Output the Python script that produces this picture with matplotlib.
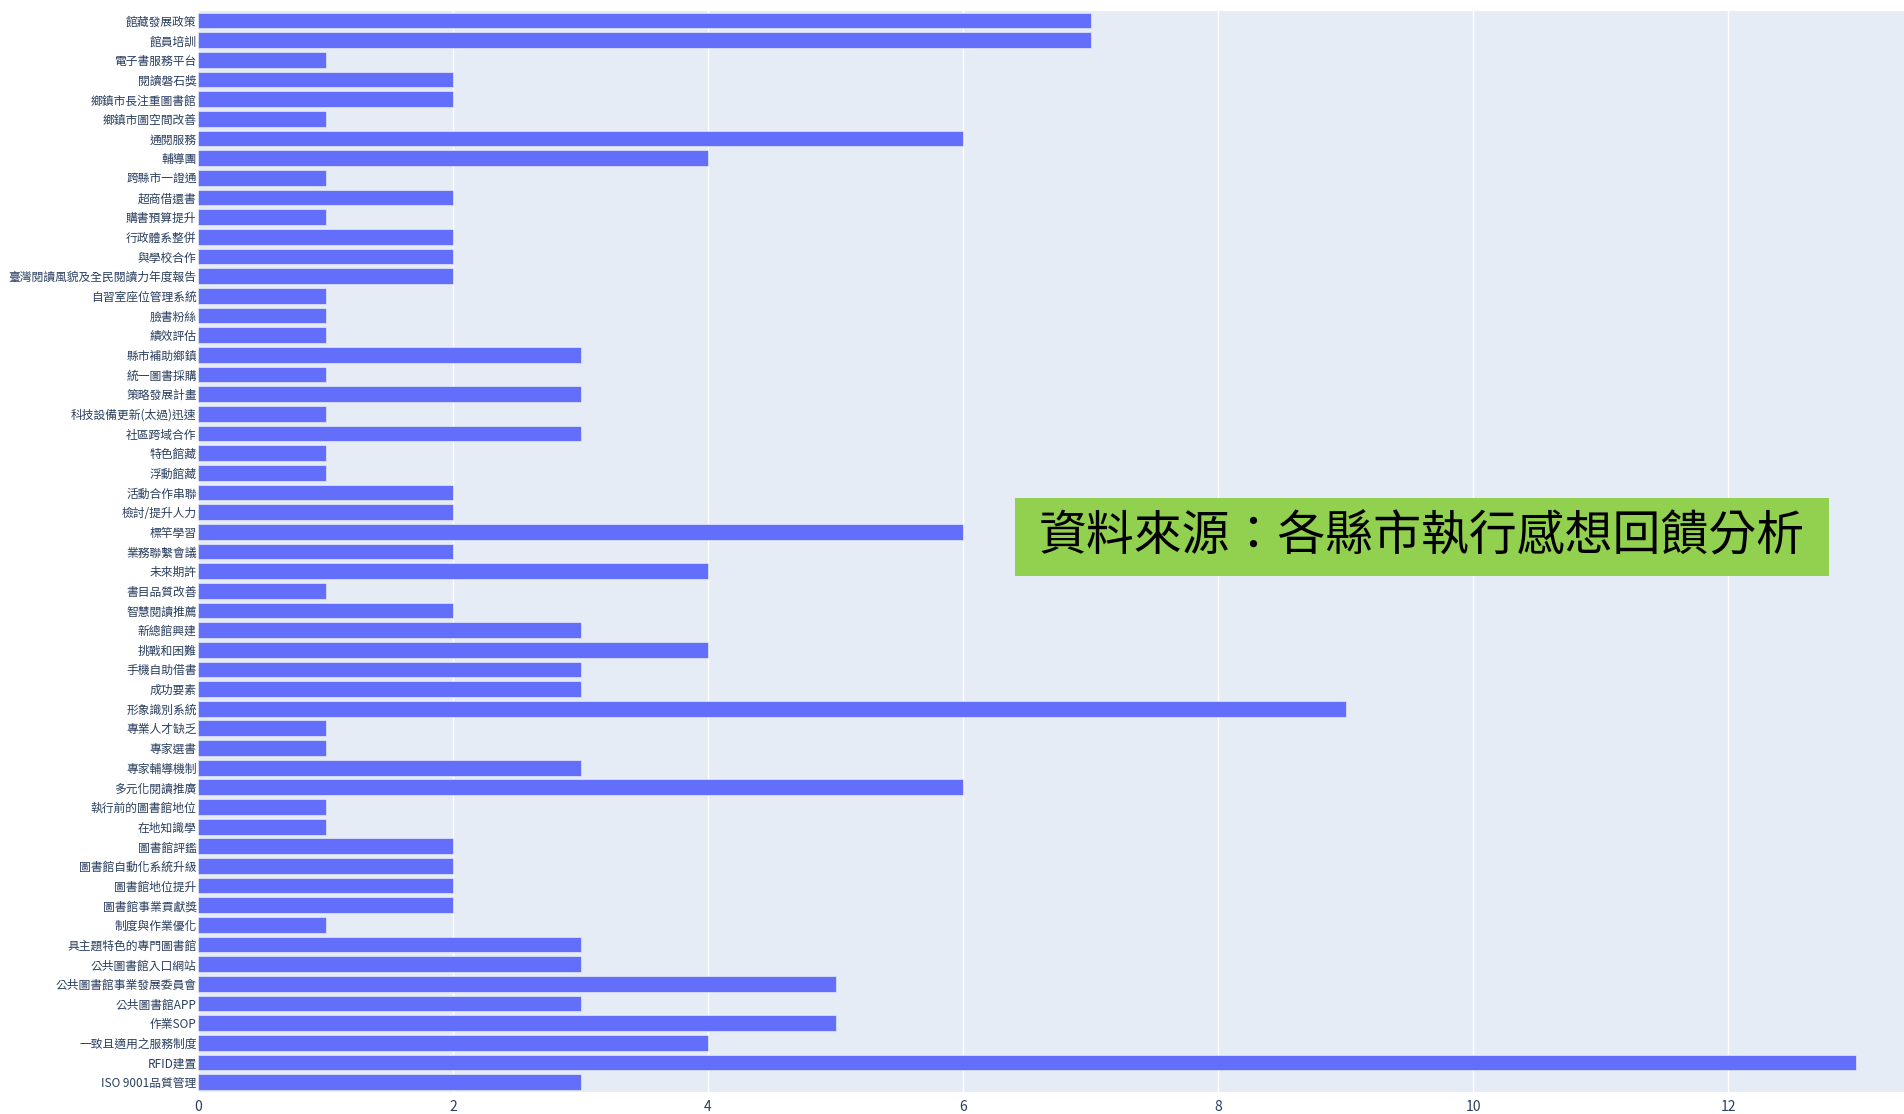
import matplotlib
matplotlib.use("Agg")
import matplotlib.pyplot as plt

plt.rcParams['font.family'] = ['Noto Sans CJK TC', 'DejaVu Sans']

# categories listed bottom -> top
categories = [
    "ISO 9001品質管理", "RFID建置", "一致且適用之服務制度", "作業SOP", "公共圖書館APP",
    "公共圖書館事業發展委員會", "公共圖書館入口網站", "具主題特色的專門圖書館", "制度與作業優化",
    "圖書館事業貢獻獎", "圖書館地位提升", "圖書館自動化系統升級", "圖書館評鑑", "在地知識學",
    "執行前的圖書館地位", "多元化閱讀推廣", "專家輔導機制", "專家選書", "專業人才缺乏",
    "形象識別系統", "成功要素", "手機自助借書", "挑戰和困難", "新總館興建", "智慧閱讀推薦",
    "書目品質改善", "未來期許", "業務聯繫會議", "標竿學習", "檢討/提升人力", "活動合作串聯",
    "浮動館藏", "特色館藏", "社區跨域合作", "科技設備更新(太過)迅速", "策略發展計畫",
    "統一圖書採購", "縣市補助鄉鎮", "績效評估", "臉書粉絲", "自習室座位管理系統",
    "臺灣閱讀風貌及全民閱讀力年度報告", "與學校合作", "行政體系整併", "購書預算提升",
    "超商借還書", "跨縣市一證通", "輔導團", "通閱服務", "鄉鎮市圖空間改善",
    "鄉鎮市長注重圖書館", "閱讀磐石獎", "電子書服務平台", "館員培訓", "館藏發展政策",
]
values = [
    3, 13, 4, 5, 3,
    5, 3, 3, 1,
    2, 2, 2, 2, 1,
    1, 6, 3, 1, 1,
    9, 3, 3, 4, 3, 2,
    1, 4, 2, 6, 2, 2,
    1, 1, 3, 1, 3,
    1, 3, 1, 1, 1,
    2, 2, 2, 1,
    2, 1, 4, 6, 1,
    2, 2, 1, 7, 7,
]
x_ticks = [0, 2, 4, 6, 8, 10, 12]
note_text = "資料來源：各縣市執行感想回饋分析"

fig = plt.figure(figsize=(19.04, 11.14), dpi=100)
ax = fig.add_axes([0.104, 0.0197, 0.896, 0.9706])
ax.set_facecolor('#E5ECF6')

ypos = list(range(len(categories)))
ax.barh(ypos, values, height=0.8, color='#636EFA', edgecolor='#E5ECF6',
        linewidth=0.5, zorder=3)
ax.set_ylim(-0.5, len(categories) - 0.5)
ax.set_xlim(0, 13.38)
ax.set_yticks(ypos)
ax.set_yticklabels(categories, fontsize=8.5, color='#2a3f5f')
ax.set_xticks(x_ticks)
ax.set_xticklabels([str(t) for t in x_ticks], fontsize=10, color='#2a3f5f')
ax.tick_params(axis='y', length=0, pad=1)
ax.tick_params(axis='x', length=0, pad=6)
ax.grid(axis='x', color='white', linewidth=1, zorder=0)
ax.set_axisbelow(True)
for s in ax.spines.values():
    s.set_visible(False)

# annotation box (figure pixel coords)
W, H = 1904, 1114
bx0, bx1, by0, by1 = 1015, 1829, 498, 576
fig.patches.append(plt.Rectangle((bx0 / W, 1 - by1 / H), (bx1 - bx0) / W, (by1 - by0) / H,
                                 transform=fig.transFigure, facecolor='#92D050',
                                 edgecolor='none', zorder=10))
fig.text((bx0 + bx1) / 2 / W, 1 - (by0 + by1) / 2 / H, note_text, ha='center', va='center',
         fontsize=34.5, color='black', zorder=11)

fig.savefig('out.png', dpi=100)
